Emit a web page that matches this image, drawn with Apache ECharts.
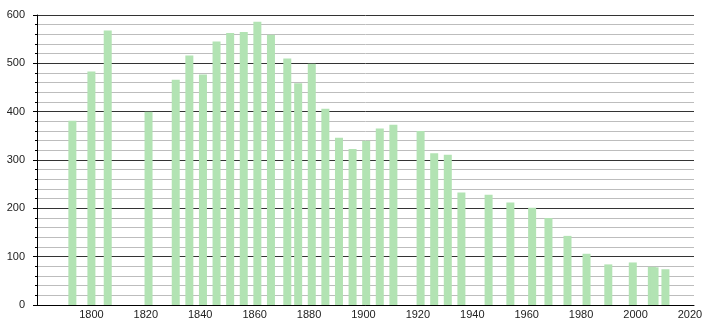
<!DOCTYPE html>
<html>
<head>
<meta charset="utf-8">
<script src="https://cdn.jsdelivr.net/npm/echarts@6/dist/echarts.min.js"></script>
<style>
html,body{margin:0;padding:0;background:#fff;}
#c{width:706px;height:328px;}
</style>
</head>
<body>
<div id="c"></div>
<script>
var years = [1793,1800,1806,1821,1831,1836,1841,1846,1851,1856,1861,1866,1872,1876,1881,1886,1891,1896,1901,1906,1911,1921,1926,1931,1936,1946,1954,1962,1968,1975,1982,1990,1999,2006,2007,2011];
var population = [381,483,568,400,466,516,477,545,563,565,586,559,510,459,499,406,346,323,340,365,373,360,314,311,233,228,212,201,180,143,106,84,88,79,78,74];
var yTicks = [0,100,200,300,400,500,600];
var xTicks = [1800,1820,1840,1860,1880,1900,1920,1940,1960,1980,2000,2020];

var chart = echarts.init(document.getElementById('c'), null, {renderer:'canvas'});
var data = years.map(function(y,i){return [y, population[i]];});
var font = 'Liberation Sans, Arial, sans-serif';
chart.setOption({
  animation:false,
  grid:{left:37,right:12,top:15,bottom:23,containLabel:false},
  xAxis:{
    type:'value', min:1780, max:2021.5, interval:20,
    axisLine:{show:true,onZero:false,lineStyle:{color:'#000',width:1}},
    axisTick:{show:false},
    splitLine:{show:false},
    axisLabel:{
      margin:4, color:'#222', fontFamily:font, fontSize:11,
      formatter:function(v){return xTicks.indexOf(v)>=0 ? String(v) : '';}
    }
  },
  yAxis:{
    type:'value', min:0, max:600, interval:100,
    axisLine:{show:true,lineStyle:{color:'#000',width:1}},
    axisTick:{show:true,length:4,lineStyle:{color:'#000'}},
    minorTick:{show:true,splitNumber:5,length:2,lineStyle:{color:'#000'}},
    splitLine:{show:true,lineStyle:{color:'#333',width:1}},
    minorSplitLine:{show:true,lineStyle:{color:'#bdbdbd',width:1}},
    axisLabel:{
      margin:12, color:'#222', fontFamily:font, fontSize:11,
      formatter:function(v){return yTicks.indexOf(v)>=0 ? String(v) : '';}
    }
  },
  series:[{
    type:'bar',
    data:data,
    barWidth:8,
    itemStyle:{color:'#b2e3b3'},
    z:3
  }]
});
</script>
</body>
</html>
